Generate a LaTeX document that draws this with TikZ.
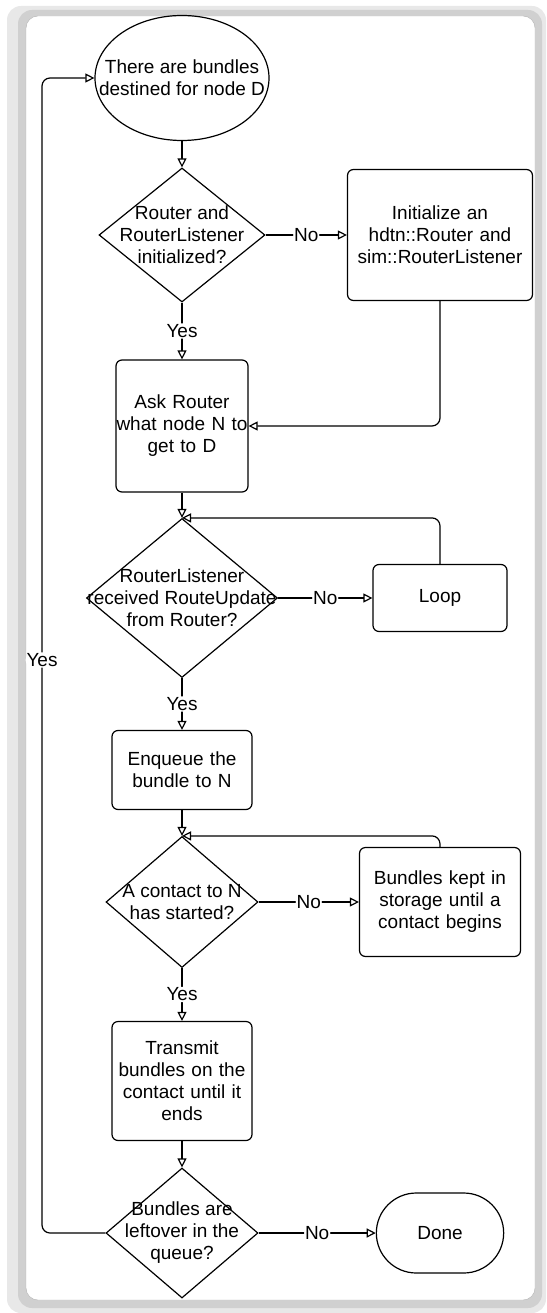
\documentclass[tikz,border=0pt]{standalone}
\usepackage{fontspec}
\setmainfont{Liberation Sans}
\usetikzlibrary{arrows.meta,positioning,shapes.geometric,shapes.misc}
\definecolor{FrameGray}{RGB}{208,208,208}
\definecolor{ShadeGray}{RGB}{232,232,232}
\tikzset{
  every node/.style={font=\fontsize{19}{22}\selectfont},
  box/.style={draw,rounded corners=6pt,line width=1.2pt,align=center,inner sep=0pt},
  decision/.style={diamond,draw,line width=1.2pt,inner sep=0pt},
  dtext/.style={align=center,inner sep=0pt},
  startnode/.style={ellipse,draw,line width=1.2pt,inner sep=0pt},
  endnode/.style={rounded rectangle,draw,line width=1.2pt},
  flow/.style={-{Triangle[length=9pt,width=9pt,fill=white]},line width=1.2pt,rounded corners=8pt},
  lbl/.style={fill=white,inner sep=1pt}
}

\begin{document}
\begin{tikzpicture}[x=1pt,y=-1pt]
  \useasboundingbox (0,0) rectangle (546,1313);
  % frame
  \fill[ShadeGray,rounded corners=14pt] (7,6) rectangle (546,1313);
  \fill[FrameGray,rounded corners=14pt] (18,10) rectangle (542,1308);
  \filldraw[fill=white,draw=gray!60,rounded corners=12pt] (26,16) rectangle (535,1300);

  % main column
  \node[startnode,minimum width=174pt,minimum height=125pt] (start) at (182,78) {};
  \node[dtext] (starttext) at (start) {There are bundles\\destined for node D};
  \node[decision,minimum width=166pt,minimum height=134pt] (q1) at (182,235) {};
  \node[dtext] (q1text) at (q1) {Router and\\RouterListener\\initialized?};
  \node[box,minimum width=132pt,minimum height=132pt,text width=132pt] (ask) at (182,426) {Ask Router\\what node N to\\get to D};
  \node[decision,minimum width=191pt,minimum height=159pt] (q2) at (182,598) {};
  \node[dtext] (q2text) at (q2) {RouterListener\\received RouteUpdate\\from Router?};
  \node[box,minimum width=140pt,minimum height=79pt,text width=140pt] (enq) at (182,770) {Enqueue the\\bundle to N};
  \node[decision,minimum width=152pt,minimum height=131pt] (q3) at (182,902) {};
  \node[dtext] (q3text) at (q3) {A contact to N\\has started?};
  \node[box,minimum width=140pt,minimum height=119pt,text width=140pt] (tx) at (182,1081) {Transmit\\bundles on the\\contact until it\\ends};
  \node[decision,minimum width=152pt,minimum height=130pt] (q4) at (182,1233) {};
  \node[dtext] (q4text) at (q4) {Bundles are\\leftover in the\\queue?};

  % right column
  \node[box,minimum width=185pt,minimum height=131pt,text width=185pt] (init) at (440,235) {Initialize an\\hdtn::Router and\\sim::RouterListener};
  \node[box,minimum width=134pt,minimum height=67pt,text width=134pt] (loop) at (440,598) {Loop};
  \node[box,minimum width=161pt,minimum height=109pt,text width=161pt] (kept) at (440,902) {Bundles kept in\\storage until a\\contact begins};
  \node[endnode,minimum width=134pt,minimum height=80pt] (done) at (440,1233) {Done};
  \coordinate (yesback) at (42,660);

  % connectors
  \draw[flow] (start.south) -- (q1.north);
  \draw[flow] (q1.east) -- node[lbl]{No} (init.west);
  \draw[flow] (q1.south) -- node[lbl]{Yes} (ask.north);
  \draw[flow] (init.south) |- (ask.east);
  \draw[flow] (ask.south) -- (q2.north);
  \draw[flow] (q2.east) -- node[lbl]{No} (loop.west);
  \draw[flow] (loop.north) |- (q2.north);
  \draw[flow] (q2.south) -- node[lbl]{Yes} (enq.north);
  \draw[flow] (enq.south) -- (q3.north);
  \draw[flow] (q3.east) -- node[lbl]{No} (kept.west);
  \draw[flow] (kept.north) |- (q3.north);
  \draw[flow] (q3.south) -- node[lbl]{Yes} (tx.north);
  \draw[flow] (tx.south) -- (q4.north);
  \draw[flow] (q4.east) -- node[lbl]{No} (done.west);
  \draw[flow] (q4.west) -| (yesback) node[lbl]{Yes} |- (start.west);
\end{tikzpicture}
\end{document}
